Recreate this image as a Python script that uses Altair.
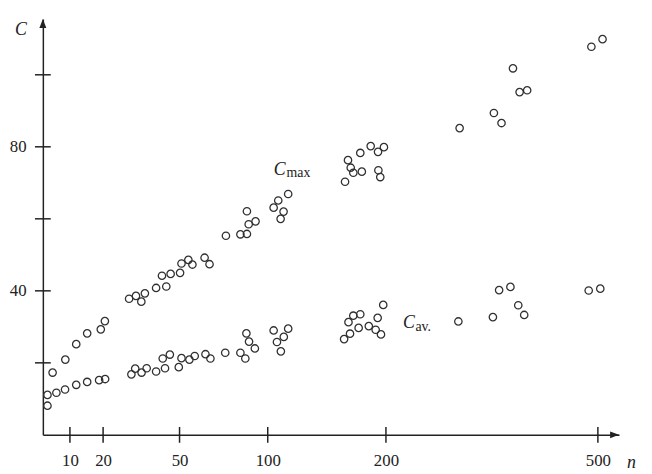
import altair as alt
import pandas as pd

# ---- data ----
cmax_n = [3.6, 8.3, 11.9, 15.2, 19.3, 20.7, 30.2, 32.9, 35.0, 36.4, 40.8, 44.8, 43.1, 46.5,
          50.3, 51.1, 55.0, 57.3, 64.2, 67.0, 76.3, 84.5, 88.2, 89.2, 93.1, 88.2, 105.0,
          108.9, 117.3, 113.4, 110.9, 165.4, 167.9, 170.2, 172.4, 179.6, 178.3, 187.1,
          193.3, 198.3, 193.6, 195.2, 304.3, 352.8, 363.6, 379.8, 389.2, 399.9, 490.8, 506.6]
cmax_c = [17.3, 20.9, 25.2, 28.2, 29.3, 31.6, 37.8, 38.6, 37.0, 39.3, 40.8, 41.2, 44.2, 44.7,
          45.0, 47.6, 48.6, 47.3, 49.2, 47.4, 55.3, 55.7, 55.8, 58.5, 59.3, 62.1, 63.1,
          65.1, 66.9, 62.0, 60.0, 70.3, 76.3, 74.2, 72.8, 73.1, 78.3, 80.2,
          78.6, 79.9, 73.5, 71.6, 85.2, 89.4, 86.6, 101.8, 95.2, 95.7, 107.8, 109.9]

cav_n = [1.7, 1.7, 5.0, 8.2, 11.9, 15.2, 18.8, 20.8, 31.1, 32.6, 35.1, 37.1, 40.8, 44.3,
         43.4, 46.2, 49.7, 51.1, 55.6, 58.6, 64.7, 67.5, 75.9, 84.5, 87.3, 87.9, 89.4,
         92.7, 105.0, 117.3, 113.6, 107.8, 111.1, 164.6, 169.6, 168.3, 172.4, 178.3,
         176.9, 185.5, 193.0, 197.7, 191.3, 195.8, 302.5, 351.4, 360.2, 376.2, 387.3,
         395.7, 487.0, 503.4]
cav_c = [8.1, 11.1, 11.7, 12.6, 13.9, 14.7, 15.2, 15.5, 16.8, 18.4, 17.3, 18.5, 17.6, 18.5,
         21.2, 22.3, 18.8, 21.3, 20.9, 21.9, 22.4, 21.2, 22.8, 22.8, 21.2, 28.2, 25.9,
         24.0, 29.0, 29.5, 27.2, 25.8, 23.2, 26.6, 28.1, 31.3, 33.1, 33.5,
         29.7, 30.2, 32.5, 36.1, 29.2, 27.9, 31.5, 32.7, 40.2, 41.1, 36.0,
         33.3, 40.1, 40.6]

x_ticks = [10, 20, 50, 100, 200, 500]
y_ticks = [20, 40, 60, 80, 100]
y_labels = [40, 80]

# series labels (main letter + subscript), placed in data coordinates
lab_main = pd.DataFrame({"n": [105.0, 224.2], "C": [72.2, 29.8], "t": ["C", "C"]})
lab_sub = pd.DataFrame({"n": [115.9, 241.7], "C": [71.7, 28.9], "t": ["max", "av."]})

# ---- layout ----
W = 583.4
H = 421.1
INK = "#222222"
SERIF = "Liberation Serif"

x_scale = alt.Scale(type="linear",
                    domain=[0, 10, 20, 50, 100, 200, 500, 530],
                    range=[0, 27.4, 61, 138.4, 227.7, 347.4, 562, W],
                    nice=False, zero=False)
y_scale = alt.Scale(domain=[0, 115.5], nice=False, zero=True)

x_axis = alt.Axis(values=x_ticks, ticks=False, grid=False, title=None,
                  domain=True, domainColor=INK, domainWidth=1.5,
                  labelFont=SERIF, labelFontSize=17, labelColor=INK,
                  labelPadding=18, labelFlush=False, labelOverlap=False)
y_axis = alt.Axis(values=y_labels, ticks=False, grid=False, title=None,
                  domain=True, domainColor=INK, domainWidth=1.5,
                  labelFont=SERIF, labelFontSize=17, labelColor=INK,
                  labelPadding=17, labelFlush=False)

df = pd.concat([
    pd.DataFrame({"n": cmax_n, "C": cmax_c, "s": "max"}),
    pd.DataFrame({"n": cav_n, "C": cav_c, "s": "av"}),
])

points = alt.Chart(df).mark_point(
    shape="circle", filled=False, size=56, strokeWidth=1.3, color="#303030", opacity=1
).encode(
    x=alt.X("n:Q", scale=x_scale, axis=x_axis),
    y=alt.Y("C:Q", scale=y_scale, axis=y_axis),
)

xt = alt.Chart(pd.DataFrame({"n": x_ticks})).mark_rule(color=INK, strokeWidth=1.5).encode(
    x=alt.X("n:Q", scale=x_scale, axis=x_axis),
    y=alt.value(H - 8), y2=alt.value(H + 8),
)
yt = alt.Chart(pd.DataFrame({"C": y_ticks})).mark_rule(color=INK, strokeWidth=1.5).encode(
    y=alt.Y("C:Q", scale=y_scale, axis=y_axis),
    x=alt.value(-8), x2=alt.value(8),
)

one = pd.DataFrame({"a": [0]})
arrow_up = alt.Chart(one).mark_point(
    shape="M0,0L-1.4,3.6L1.4,3.6Z", filled=True, size=25, color=INK, strokeWidth=0, opacity=1
).encode(x=alt.value(0), y=alt.value(0))
arrow_right = alt.Chart(one).mark_point(
    shape="M0,0L-3.6,-1.4L-3.6,1.4Z", filled=True, size=25, color=INK, strokeWidth=0, opacity=1
).encode(x=alt.value(W), y=alt.value(H))

title_c = alt.Chart(one).mark_text(
    text="C", font=SERIF, fontSize=18, fontStyle="italic", color=INK, align="left",
    baseline="alphabetic"
).encode(x=alt.value(-28.3), y=alt.value(15.8))
title_n = alt.Chart(one).mark_text(
    text="n", font=SERIF, fontSize=18, fontStyle="italic", color=INK, align="left",
    baseline="alphabetic"
).encode(x=alt.value(591.5), y=alt.value(454.5))

lm = alt.Chart(lab_main).mark_text(
    font=SERIF, fontSize=18, fontStyle="italic", color=INK, align="left", baseline="alphabetic"
).encode(x=alt.X("n:Q", scale=x_scale, axis=x_axis), y=alt.Y("C:Q", scale=y_scale, axis=y_axis),
         text="t:N")
ls = alt.Chart(lab_sub).mark_text(
    font=SERIF, fontSize=14, color=INK, align="left", baseline="alphabetic"
).encode(x=alt.X("n:Q", scale=x_scale, axis=x_axis), y=alt.Y("C:Q", scale=y_scale, axis=y_axis),
         text="t:N")

chart = alt.layer(points, xt, yt, arrow_up, arrow_right, title_c, title_n, lm, ls).properties(
    width=W, height=H,
    autosize=alt.AutoSizeParams(type="none"),
    padding={"left": 35.3, "top": 8.2, "right": 25.3, "bottom": 36.7},
    background="white",
).configure_view(stroke=None)

chart.save("out.html", embed_options={"renderer": "svg", "actions": False})
